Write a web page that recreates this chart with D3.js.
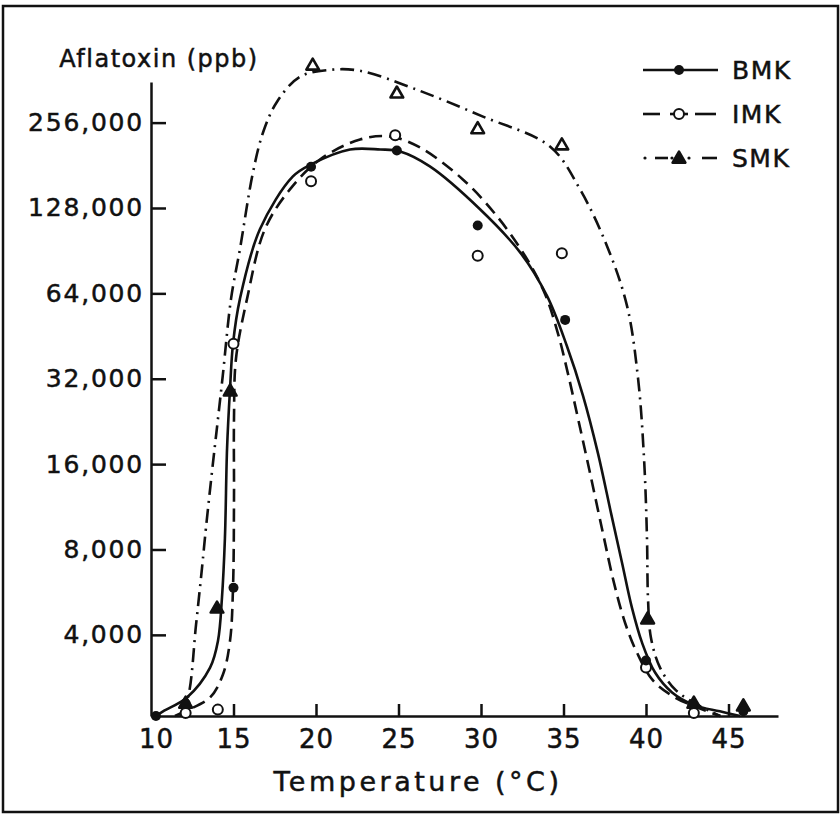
<!DOCTYPE html>
<html>
<head>
<meta charset="utf-8">
<script src="https://cdn.jsdelivr.net/npm/d3@7"></script>
<style>
  html, body { margin: 0; padding: 0; background: #fff; }
  svg { display: block; }
  text { font-family: "DejaVu Sans", sans-serif; fill: #111; stroke: #111; stroke-width: 0.5; }
</style>
</head>
<body>
<svg id="chart" width="840" height="818"></svg>
<script>
// Temperature ticks and aflatoxin ticks (log2 scale)
const xTicks = [10, 15, 20, 25, 30, 35, 40, 45];
const yTicks = [4000, 8000, 16000, 32000, 64000, 128000, 256000];
const seriesNames = ["BMK", "IMK", "SMK"];

// Observed points [temperature °C, aflatoxin ppb]
const bmkPoints = [[10.3, 2070], [12.1, 2290], [15.0, 5860], [19.7, 179000], [24.9, 204000],
  [29.8, 111000], [35.1, 51600], [40.0, 3250], [42.8, 2276], [45.9, 2150]];
const imkPoints = [[12.1, 2120], [14.05, 2180], [15.0, 42500], [19.7, 159000], [24.8, 231000],
  [29.8, 86800], [34.9, 88600], [40.0, 3070], [42.9, 2120]];
const smkPoints = [[12.1, 2300], [14.0, 4980], [14.8, 29000], [19.8, 409000], [24.9, 326000],
  [29.8, 244000], [34.9, 214000], [40.1, 4560], [42.9, 2300], [45.9, 2250]];

// Fitted response curves [temperature °C, aflatoxin ppb]
const bmkCurve = [[10.3, 2070], [10.73, 2150], [12.18, 2406], [13.58, 3066], [14.06, 3815],
  [14.3, 5400], [14.48, 8770], [14.61, 18180], [14.79, 29530], [14.97, 42500], [15.39, 61200],
  [16.6, 107700], [18.6, 165400], [19.7, 182300], [22.06, 205800], [23.9, 205800], [25.1, 202500],
  [26.9, 179400], [29.94, 126700], [32.36, 89450], [34.0, 62670], [35.2, 41830], [36.18, 27920],
  [37.09, 17460], [37.88, 10750], [38.55, 7170], [39.15, 4980], [39.76, 3754], [40.55, 2946],
  [41.58, 2507], [42.97, 2256], [44.48, 2150], [45.7, 2070]];
const imkCurve = [[11.45, 2070], [12.18, 2166], [13.58, 2406], [14.36, 2900], [14.79, 3815],
  [14.97, 5860], [15.03, 12130], [15.03, 23170], [15.15, 37640], [15.82, 61200], [16.9, 107700],
  [18.42, 148900], [20.24, 189800], [22.67, 223200], [24.48, 228600], [26.3, 209200],
  [28.9, 161400], [30.97, 119700], [32.79, 84500], [33.88, 63680], [34.67, 46080], [35.27, 33350],
  [35.88, 23170], [36.61, 14860], [37.39, 9140], [38.06, 6100], [38.73, 4414], [39.45, 3464],
  [40.42, 2762], [41.76, 2406], [43.27, 2201], [44.5, 2070]];
const smkCurve = [[11.76, 2070], [12.24, 2406], [12.73, 4345], [13.09, 6880], [13.33, 9520],
  [13.72, 15470], [14.04, 22610], [14.35, 32800], [14.85, 61200], [15.39, 91630], [16.18, 170900],
  [16.79, 236200], [17.64, 303400], [19.03, 371400], [20.85, 392900], [22.67, 389900],
  [26.12, 334300], [30.12, 268800], [34.18, 210900], [36.0, 148900], [37.64, 93900],
  [38.85, 57800], [39.52, 32040], [39.88, 16770], [40.06, 8770], [40.12, 5400], [40.3, 3909],
  [40.85, 3066], [41.76, 2568], [42.97, 2292], [44.5, 2070]];

const svg = d3.select("#chart");

// Outer frame
svg.append("rect")
  .attr("x", 3).attr("y", 6).attr("width", 835).attr("height", 806)
  .attr("fill", "none").attr("stroke", "#111").attr("stroke-width", 2.5);

const x = d3.scaleLinear().domain([10, 48]).range([151, 778]);
const y = d3.scaleLog().base(2).domain([2070, 356000]).range([716, 82]);

// Y axis
const yAxis = svg.append("g")
  .attr("transform", `translate(${x(10)},0)`)
  .call(d3.axisLeft(y).tickValues(yTicks).tickFormat(d3.format(","))
    .tickSizeInner(-15).tickSizeOuter(0).tickPadding(7));
yAxis.select(".domain").attr("stroke", "#111").attr("stroke-width", 2.5);
yAxis.selectAll(".tick line").attr("stroke", "#111").attr("stroke-width", 2.5);
yAxis.selectAll(".tick text").attr("font-size", 25).attr("letter-spacing", 1.8)
  .attr("font-family", "DejaVu Sans").attr("fill", "#111");

// X axis
const xAxis = svg.append("g")
  .attr("transform", `translate(0,${y(2070)})`)
  .call(d3.axisBottom(x).tickValues(xTicks).tickFormat(d3.format("d"))
    .tickSizeInner(-12).tickSizeOuter(0).tickPadding(14));
xAxis.select(".domain").attr("stroke", "#111").attr("stroke-width", 2.5);
xAxis.selectAll(".tick line").attr("stroke", "#111").attr("stroke-width", 2.5)
  .filter(d => d === 10).remove();
xAxis.selectAll(".tick text").attr("font-size", 26).attr("letter-spacing", 1)
  .attr("font-family", "DejaVu Sans").attr("fill", "#111")
  .attr("dx", d => d === 10 ? 5 : 0);

// Axis titles
svg.append("text").attr("x", 159).attr("y", 67).attr("text-anchor", "middle")
  .attr("font-size", 24).attr("letter-spacing", 1.5).text("Aflatoxin (ppb)");
svg.append("text").attr("x", 418).attr("y", 791).attr("text-anchor", "middle")
  .attr("font-size", 27).attr("letter-spacing", 3.5).text("Temperature (°C)");

// Curves
const line = d3.line().x(d => x(d[0])).y(d => y(d[1])).curve(d3.curveCatmullRom.alpha(0.5));
const styles = {
  BMK: { dash: null },
  IMK: { dash: "13,7" },
  SMK: { dash: "14,6,2,6" }
};
const curves = { BMK: bmkCurve, IMK: imkCurve, SMK: smkCurve };
seriesNames.forEach(name => {
  svg.append("path").datum(curves[name])
    .attr("d", line).attr("fill", "none").attr("stroke", "#111")
    .attr("stroke-width", 2.6).attr("stroke-dasharray", styles[name].dash)
    .attr("stroke-linecap", "butt");
});

// Markers
const tri = d3.symbol().type(d3.symbolTriangle).size(70);
function drawMarker(g, name, px, py, solid) {
  if (name === "BMK") {
    g.append("circle").attr("cx", px).attr("cy", py).attr("r", 5).attr("fill", "#111");
  } else if (name === "IMK") {
    g.append("circle").attr("cx", px).attr("cy", py).attr("r", 5)
      .attr("fill", "#fff").attr("stroke", "#111").attr("stroke-width", 2);
  } else {
    g.append("path").attr("d", tri).attr("transform", `translate(${px},${py + 1})`)
      .attr("fill", solid ? "#111" : "#fff").attr("stroke", "#111")
      .attr("stroke-width", 2.6).attr("stroke-linejoin", "round");
  }
}
const pts = svg.append("g");
smkPoints.forEach(d => drawMarker(pts, "SMK", x(d[0]), y(d[1]), d[1] < 40000));
imkPoints.forEach(d => drawMarker(pts, "IMK", x(d[0]), y(d[1])));
bmkPoints.forEach(d => drawMarker(pts, "BMK", x(d[0]), y(d[1])));

// Legend
const legend = svg.append("g");
seriesNames.forEach((name, i) => {
  const ly = 70 + i * 44;
  if (name === "BMK") {
    legend.append("line").attr("x1", 643).attr("x2", 718).attr("y1", ly).attr("y2", ly)
      .attr("stroke", "#111").attr("stroke-width", 2.6);
  } else if (name === "IMK") {
    [[643, 660], [695, 716]].forEach(s => legend.append("line")
      .attr("x1", s[0]).attr("x2", s[1]).attr("y1", ly).attr("y2", ly)
      .attr("stroke", "#111").attr("stroke-width", 2.6));
    legend.append("line").attr("x1", 670).attr("x2", 688).attr("y1", ly).attr("y2", ly)
      .attr("stroke", "#111").attr("stroke-width", 2.6);
  } else {
    [[655, 668], [702, 717]].forEach(s => legend.append("line")
      .attr("x1", s[0]).attr("x2", s[1]).attr("y1", ly).attr("y2", ly)
      .attr("stroke", "#111").attr("stroke-width", 2.6));
    [645, 672, 689].forEach(cx => legend.append("circle")
      .attr("cx", cx).attr("cy", ly).attr("r", 1.6).attr("fill", "#111"));
  }
  drawMarker(legend, name, 679, ly, true);
  legend.append("text").attr("x", 732).attr("y", ly + 9)
    .attr("font-size", 25).attr("letter-spacing", 1.5).text(name);
});
</script>
</body>
</html>
